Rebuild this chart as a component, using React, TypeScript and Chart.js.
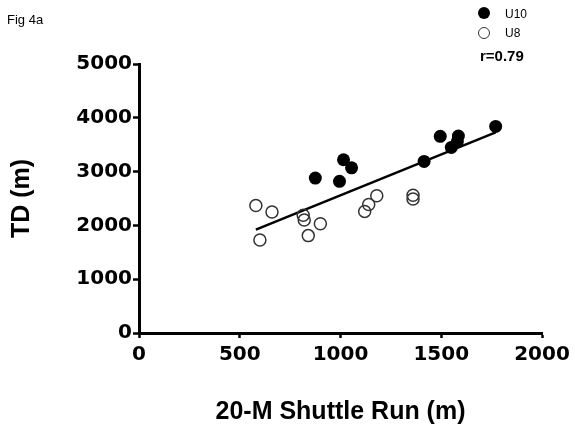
import React, { useEffect, useRef } from "react";
import Chart from "chart.js/auto";

const u10X = [875, 995, 1015, 1055, 1415, 1495, 1585, 1580, 1550, 1770];
const u10Y = [2880, 2820, 3220, 3070, 3190, 3655, 3660, 3560, 3450, 3840];
const u8X = [580, 660, 600, 815, 820, 900, 840, 1180, 1140, 1120, 1360, 1360];
const u8Y = [2370, 2250, 1730, 2190, 2100, 2030, 1810, 2550, 2390, 2260, 2560, 2490];
const fitX = [580, 1770];
const fitY = [1920, 3730];
const xTicks = [0, 500, 1000, 1500, 2000];
const yTicks = [0, 1000, 2000, 3000, 4000, 5000];
const seriesNames = ["U10", "U8"];
const rText = "r=0.79";
const figLabel = "Fig 4a";
const xTitle = "20-M Shuttle Run (m)";
const yTitle = "TD (m)";

const zip = (xs: number[], ys: number[]) => xs.map((x, i) => ({ x, y: ys[i] }));

export default function App() {
  const ref = useRef<HTMLCanvasElement | null>(null);
  useEffect(() => {
    if (!ref.current) return;
    const tickFont = { family: "DejaVu Sans", weight: "bold" as const, size: 20 };
    const titleFont = { family: "Liberation Sans", weight: "bold" as const, size: 25 };
    const chart = new Chart(ref.current, {
      type: "scatter",
      data: {
        datasets: [
          {
            label: seriesNames[0],
            data: zip(u10X, u10Y),
            pointRadius: 6.5,
            pointBackgroundColor: "#000",
            pointBorderColor: "#000",
            pointBorderWidth: 0,
          },
          {
            label: seriesNames[1],
            data: zip(u8X, u8Y),
            pointRadius: 6,
            pointBackgroundColor: "rgba(0,0,0,0)",
            pointBorderColor: "#333",
            pointBorderWidth: 1.5,
          },
          {
            label: "fit",
            data: zip(fitX, fitY),
            showLine: true,
            borderColor: "#000",
            borderWidth: 2.5,
            pointRadius: 0,
          },
        ],
      },
      options: {
        animation: false,
        responsive: false,
        layout: { padding: { left: 0, top: 64, right: 33, bottom: 0 } },
        plugins: { legend: { display: false }, tooltip: { enabled: false } },
        scales: {
          x: {
            type: "linear",
            min: 0,
            max: 2000,
            afterBuildTicks: (s: any) => {
              s.ticks = xTicks.map((v) => ({ value: v }));
            },
            afterFit: (s: any) => {
              s.height = 97;
            },
            ticks: { color: "#000", font: tickFont, padding: 5, maxRotation: 0, callback: (v: any) => String(v) },
            grid: { display: true, drawOnChartArea: false, drawTicks: true, tickLength: 5, tickColor: "#000", tickWidth: 2.5 },
            border: { display: true, width: 3, color: "#000" },
            title: { display: true, text: xTitle, color: "#000", font: titleFont, padding: { top: 0, bottom: 3 } },
          },
          y: {
            type: "linear",
            min: 0,
            max: 5000,
            afterBuildTicks: (s: any) => {
              s.ticks = yTicks.map((v) => ({ value: v }));
            },
            afterFit: (s: any) => {
              s.width = 139;
            },
            ticks: { color: "#000", font: tickFont, padding: 1, callback: (v: any) => String(v) },
            grid: { display: true, drawOnChartArea: false, drawTicks: true, tickLength: 6, tickColor: "#000", tickWidth: 2.5 },
            border: { display: true, width: 3, color: "#000" },
            title: { display: true, text: yTitle, color: "#000", font: titleFont, padding: { top: 7, bottom: 0 } },
          },
        },
      },
    });
    return () => chart.destroy();
  }, []);

  const small: React.CSSProperties = {
    position: "absolute",
    fontFamily: "Liberation Sans, Arial, sans-serif",
    fontSize: 12,
    color: "#000",
    lineHeight: "14px",
    whiteSpace: "nowrap",
  };
  return (
    <div style={{ position: "fixed", left: 0, top: 0, width: 575, height: 430, background: "#fff" }}>
      <canvas ref={ref} width={575} height={430} style={{ position: "absolute", left: 0, top: 0, width: 575, height: 430 }} />
      <div style={{ ...small, left: 7, top: 13, fontSize: 13 }}>{figLabel}</div>
      <div style={{ position: "absolute", left: 478, top: 7, width: 12, height: 12, borderRadius: "50%", background: "#000" }} />
      <div style={{ ...small, left: 505, top: 7 }}>{seriesNames[0]}</div>
      <div style={{ position: "absolute", left: 478, top: 27, width: 10, height: 10, borderRadius: "50%", border: "1.5px solid #333" }} />
      <div style={{ ...small, left: 505, top: 26 }}>{seriesNames[1]}</div>
      <div style={{ ...small, left: 480, top: 47, fontSize: 15, fontWeight: "bold", lineHeight: "18px" }}>{rText}</div>
    </div>
  );
}
